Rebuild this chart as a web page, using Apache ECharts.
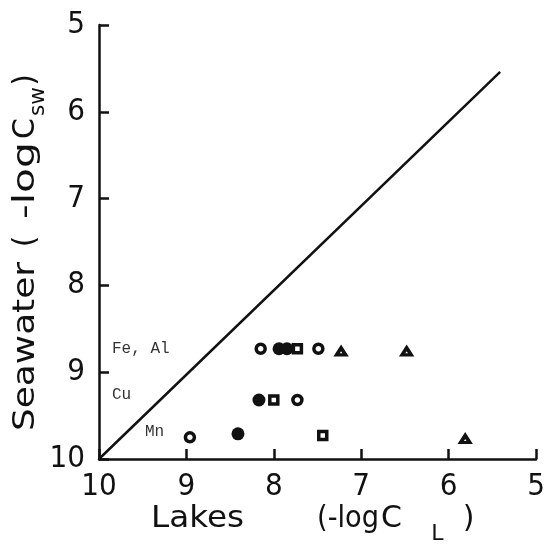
<!DOCTYPE html>
<html><head><meta charset="utf-8">
<script src="https://cdn.jsdelivr.net/npm/echarts@6/dist/echarts.min.js"></script>
<style>html,body{margin:0;padding:0;background:#fff}#c{width:552px;height:544px}</style>
</head><body><div id="c"></div>
<script>
// ---- data ----
const xTickValues = [10, 9, 8, 7, 6, 5];
const xTickLabels = ['10', '9', '8', '7', '6', '5'];
const yTickValues = [5, 6, 7, 8, 9, 10];
const yTickLabels = ['5', '6', '7', '8', '9', '10'];
const rowLabels = ['Fe, Al', 'Cu', 'Mn'];
const openCircles   = [[8.15, 8.73], [7.49, 8.73], [7.73, 9.32], [8.96, 9.75]];
const filledCircles = [[7.94, 8.73], [7.85, 8.73], [8.17, 9.32], [8.41, 9.71]];
const openSquares   = [[7.73, 8.73], [8.00, 9.32], [7.44, 9.73]];
const triangles     = [[7.23, 8.76], [6.48, 8.76], [5.81, 9.77]];
const oneToOneLine  = [[10, 10], [5.41, 5.54]];

// ---- helpers ----
const INK = '#111';
const TITLE_FONT = "'DejaVu Sans', sans-serif";
const TICK_FONT = "'Liberation Sans Narrow', 'DejaVu Sans Condensed', 'DejaVu Sans', sans-serif";
const NOTE_FONT = "'Liberation Mono', 'DejaVu Sans Mono', monospace";
const mctx = document.createElement('canvas').getContext('2d');
function measure(text, font) { mctx.font = font; return mctx.measureText(text).width; }
// place a text piece spanning [start,end] along reading direction; if fixed, keep natural width centred in span
function piece(text, size, family, start, end, cross, vertical, fixed) {
  const font = size + 'px ' + family;
  const w = measure(text, font);
  const span = Math.abs(end - start);
  const s = fixed ? 1 : span / w;
  const dir = vertical ? -1 : 1;
  const s0 = fixed ? start + dir * (span - w) / 2 : start;
  const el = {
    type: 'text', x: vertical ? cross : s0, y: vertical ? s0 : cross,
    scaleX: s, silent: true,
    style: { text: text, font: font, fill: INK, align: 'left', verticalAlign: 'middle' }
  };
  if (vertical) el.rotation = Math.PI / 2;
  return el;
}
function note(text, x, y) {
  return { type: 'text', x: x, y: y, silent: true,
    style: { text: text, font: '16px ' + NOTE_FONT, fill: '#333', align: 'left', verticalAlign: 'middle' } };
}

const chart = echarts.init(document.getElementById('c'), null, { renderer: 'canvas' });

const axisCommon = {
  type: 'value', min: 5, max: 10, interval: 1, inverse: true,
  splitLine: { show: false },
  axisLine: { show: true, onZero: false, lineStyle: { color: INK, width: 2.5 } },
  axisTick: { show: true, inside: true, length: 10, lineStyle: { color: INK, width: 2.5 } },
};

const option = {
  backgroundColor: '#fff',
  animation: false,
  grid: { left: 99, right: 16, top: 25, bottom: 85, containLabel: false },
  xAxis: Object.assign({}, axisCommon, {
    axisLabel: { color: INK, fontSize: 31, fontFamily: TICK_FONT, margin: 12,
      formatter: v => xTickLabels[xTickValues.indexOf(v)] }
  }),
  yAxis: Object.assign({}, axisCommon, {
    axisLabel: { color: INK, fontSize: 31, fontFamily: TICK_FONT, margin: 14,
      formatter: v => yTickLabels[yTickValues.indexOf(v)] }
  }),
  series: [
    { type: 'line', data: oneToOneLine, symbol: 'none', silent: true,
      lineStyle: { color: INK, width: 2.5 } },
    { type: 'scatter', name: 'open circle', data: openCircles, symbol: 'circle', symbolSize: 9,
      itemStyle: { color: '#fff', borderColor: INK, borderWidth: 3.5, opacity: 1 } },
    { type: 'scatter', name: 'filled circle', data: filledCircles, symbol: 'circle', symbolSize: 13,
      itemStyle: { color: INK, opacity: 1 } },
    { type: 'scatter', name: 'open square', data: openSquares, symbol: 'rect', symbolSize: 8,
      itemStyle: { color: '#fff', borderColor: INK, borderWidth: 3.5, opacity: 1 } },
    { type: 'scatter', name: 'triangle', data: triangles, symbol: 'triangle', symbolSize: [9, 7],
      itemStyle: { color: '#fff', borderColor: INK, borderWidth: 3.5, opacity: 1 } }
  ],
  graphic: [
    // y-axis title, reading bottom to top
    piece('Seawater', 30, TITLE_FONT, 431, 262, 26.5, true),
    piece('(', 30, TITLE_FONT, 259, 224, 26.5, true, true),
    piece('-log', 30, TITLE_FONT, 219, 142, 26.5, true),
    piece('C', 30, TITLE_FONT, 141, 116, 26.5, true, true),
    piece('sw', 22, TITLE_FONT, 116, 87, 38.5, true),
    piece(')', 30, TITLE_FONT, 90, 70, 26.5, true, true),
    // x-axis title
    piece('Lakes', 30, TITLE_FONT, 151, 244, 519.5, false),
    piece('(-log', 30, TITLE_FONT, 317, 379, 519, false),
    piece('C', 30, TITLE_FONT, 380, 403, 519, false, true),
    piece('L', 22, TITLE_FONT, 427, 448, 534, false, true),
    piece(')', 30, TITLE_FONT, 460, 477, 519, false, true),
    // row annotations
    note(rowLabels[0], 112, 349),
    note(rowLabels[1], 112, 395),
    note(rowLabels[2], 145, 432)
  ]
};
chart.setOption(option);
</script>
</body></html>
